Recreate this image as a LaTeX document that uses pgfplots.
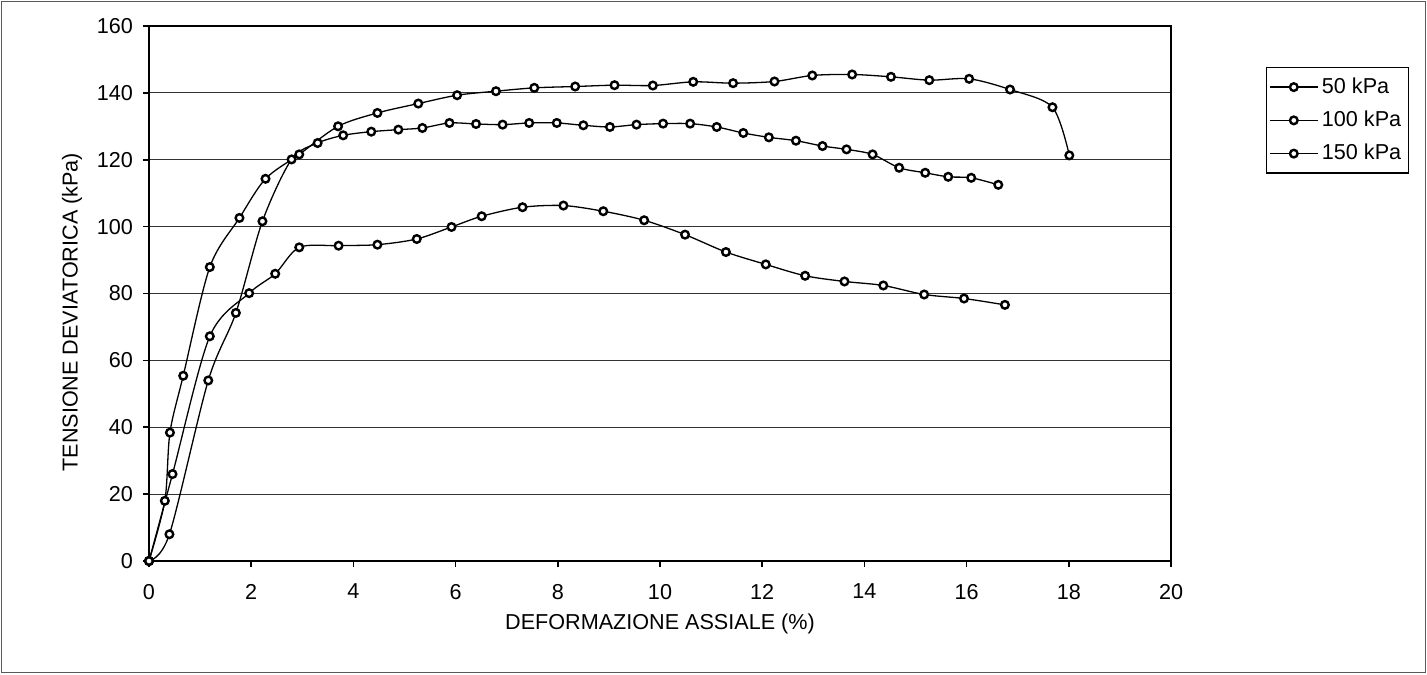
\documentclass[border=0pt]{standalone}
\usepackage{fontspec}
\setmainfont{Liberation Sans}
\usepackage{pgfplots}
\usepackage{pgfplotstable}
\pgfplotsset{compat=1.18}

% deformazione assiale (%)  tensione deviatorica (kPa)
\pgfplotstableread{
x y
0 0
0.46 26
1.19 67.2
1.96 80.1
2.47 85.9
2.94 93.8
3.71 94.3
4.47 94.6
5.24 96.3
5.92 99.9
6.51 103.1
7.31 105.8
8.11 106.3
8.89 104.6
9.69 101.9
10.49 97.6
11.29 92.4
12.07 88.7
12.84 85.3
13.61 83.6
14.37 82.4
15.17 79.7
15.95 78.5
16.75 76.6
}\kpaA

\pgfplotstableread{
x y
0 0
0.40 8
1.16 54
1.70 74.2
2.22 101.6
2.79 120.1
3.30 125.0
3.80 127.3
4.35 128.4
4.88 129.0
5.35 129.5
5.88 131.0
6.40 130.7
6.92 130.5
7.44 131.0
7.98 131.0
8.50 130.3
9.02 129.8
9.54 130.5
10.06 130.8
10.59 130.8
11.11 129.8
11.63 128.0
12.13 126.7
12.66 125.7
13.18 124.1
13.65 123.1
14.16 121.6
14.68 117.6
15.19 116.1
15.64 114.9
16.09 114.6
16.62 112.5
}\kpaB

\pgfplotstableread{
x y
0 0
0.31 18
0.41 38.4
0.67 55.4
1.19 87.9
1.77 102.6
2.28 114.3
2.94 121.6
3.70 130.0
4.47 134.0
5.27 136.8
6.03 139.3
6.79 140.5
7.54 141.5
8.34 141.9
9.11 142.3
9.86 142.2
10.65 143.3
11.43 142.9
12.24 143.4
12.98 145.2
13.76 145.5
14.52 144.8
15.27 143.8
16.05 144.2
16.85 141.0
17.68 135.7
18.01 121.3
}\kpaC

\pgfplotsset{serie/.style={black, line width=0.65pt, smooth, mark=*, mark size=1.9pt,
    mark options={fill=white, draw=black, line width=1.2pt, solid}}}

\begin{document}
\begin{tikzpicture}
\useasboundingbox (-74.5pt,-56.5pt) rectangle (639pt,280.5pt);
\draw[black!65, line width=0.7pt] (-73.8pt,-55.8pt) rectangle (638.3pt,279.8pt);
\begin{axis}[
  scale only axis,
  width=511pt, height=267.5pt,
  at={(0pt,0pt)}, anchor=south west,
  xmin=0, xmax=20, ymin=0, ymax=160,
  xtick distance=2, ytick distance=20,
  ymajorgrids=true,
  major grid style={black!80, line width=0.5pt},
  axis line style={black, line width=0.9pt},
  tick style={black, line width=0.8pt},
  major tick length=3pt,
  tick align=outside,
  xtick pos=bottom, ytick pos=left,
  /pgf/number format/assume math mode=true,
  ticklabel style={font=\fontsize{10.8}{12}\selectfont},
  xticklabel style={yshift=-5pt},
  yticklabel style={xshift=-1.5pt},
  xlabel={DEFORMAZIONE ASSIALE (\%)},
  ylabel={TENSIONE DEVIATORICA (kPa)},
  every axis x label/.style={at={(axis description cs:0.5,0)}, anchor=center, yshift=-31.5pt, font=\fontsize{10.8}{12}\selectfont},
  every axis y label/.style={at={(axis description cs:0,0.465)}, xshift=-38.5pt, anchor=center, rotate=90, font=\fontsize{10.8}{12}\selectfont},
  legend style={at={(1.093,0.923)}, anchor=north west, draw=black, line width=0.6pt,
    inner xsep=1.5pt, inner ysep=3pt, row sep=3.3pt,
    nodes={inner sep=2pt, font=\fontsize{10.8}{12}\selectfont}},
  legend cell align=left,
  legend image code/.code={\draw[mark repeat=2, mark phase=2, #1] plot coordinates {(0pt,0pt) (11.75pt,0pt) (23.5pt,0pt)};},
]
\addplot[serie] table[x=x, y=y] {\kpaA};
\addplot[serie] table[x=x, y=y] {\kpaB};
\addplot[serie] table[x=x, y=y] {\kpaC};
\legend{50 kPa, 100 kPa, 150 kPa}
\end{axis}
\end{tikzpicture}
\end{document}
